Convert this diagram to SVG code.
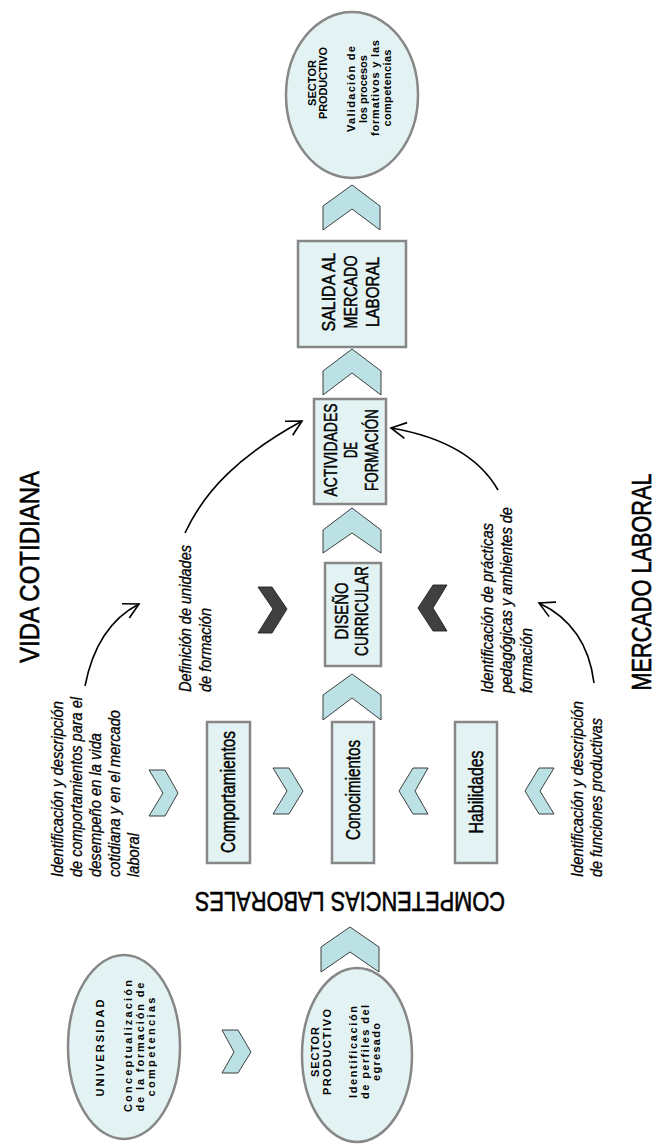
<svg xmlns="http://www.w3.org/2000/svg" width="660" height="1146" viewBox="0 0 660 1146">
<defs>
<style>
.box{fill:#E3F3F3;stroke:#878787;stroke-width:2.5}
.ell{fill:#E3F3F3;stroke:#878787;stroke-width:2.5}
.chev{fill:#BCE1E4;stroke:#2b2b2b;stroke-width:0.9}
.dchev{fill:#404040;stroke:#222;stroke-width:0.9}
.t{font-family:"Liberation Sans",Arial,sans-serif;fill:#000}
.bt{font-size:20px;stroke:#000;stroke-width:0.45}
.ct{font-size:17.5px;stroke:#000;stroke-width:0.45}
.et{font-size:11px;font-weight:bold}
.it{font-size:16.5px;font-style:italic;stroke:#000;stroke-width:0.3}
.big{font-size:27px;stroke:#000;stroke-width:0.6}
.arr{fill:none;stroke:#000;stroke-width:1.6}
</style>
<marker id="ah" markerUnits="userSpaceOnUse" markerWidth="20" markerHeight="20" viewBox="-17 -10 19 20" refX="0" refY="0" orient="auto"><path d="M-15,-8 L0,0 L-15,8" fill="none" stroke="#000" stroke-width="1.6"/></marker>
</defs>
<rect width="660" height="1146" fill="#fff"/>

<g id="universidad">
<ellipse class="ell" cx="124" cy="1047" rx="56" ry="92"/>
<text class="t et" transform="translate(103.5,1048) rotate(-90)" text-anchor="middle" textLength="97">UNIVERSIDAD</text>
<text class="t et" transform="translate(132,1046) rotate(-90)" text-anchor="middle" textLength="132">Conceptualización</text>
<text class="t et" transform="translate(143.5,1047) rotate(-90)" text-anchor="middle" textLength="129">de la formación de</text>
<text class="t et" transform="translate(155,1047) rotate(-90)" text-anchor="middle" textLength="99">competencias</text>
</g>

<g id="sector1">
<ellipse class="ell" cx="357" cy="1055" rx="55" ry="87"/>
<text class="t et" transform="translate(318.5,1052) rotate(-90)" text-anchor="middle" textLength="50">SECTOR</text>
<text class="t et" transform="translate(330.5,1052) rotate(-90)" text-anchor="middle" textLength="86">PRODUCTIVO</text>
<text class="t et" transform="translate(356.5,1052) rotate(-90)" text-anchor="middle" textLength="92">Identificación</text>
<text class="t et" transform="translate(368.5,1052) rotate(-90)" text-anchor="middle" textLength="94">de perfiles del</text>
<text class="t et" transform="translate(380,1052) rotate(-90)" text-anchor="middle" textLength="58">egresado</text>
</g>

<g id="competencias">
<text class="t big" font-size="31" transform="translate(350,892) rotate(180)" text-anchor="middle" textLength="310" lengthAdjust="spacingAndGlyphs">COMPETENCIAS LABORALES</text>
</g>

<g id="comportamientos">
<rect class="box" x="207" y="722" width="43" height="141"/>
<text class="t bt" transform="translate(234.5,792) rotate(-90)" text-anchor="middle" textLength="122" lengthAdjust="spacingAndGlyphs">Comportamientos</text>
</g>
<g id="conocimientos">
<rect class="box" x="332" y="722" width="42" height="141"/>
<text class="t bt" transform="translate(360,790) rotate(-90)" text-anchor="middle" textLength="100" lengthAdjust="spacingAndGlyphs">Conocimientos</text>
</g>
<g id="habilidades">
<rect class="box" x="455" y="722" width="42" height="141"/>
<text class="t bt" transform="translate(483,792) rotate(-90)" text-anchor="middle" textLength="83" lengthAdjust="spacingAndGlyphs">Habilidades</text>
</g>

<g id="diseno">
<rect class="box" x="325" y="563" width="56" height="103"/>
<text class="t ct" transform="translate(347.5,611) rotate(-90)" text-anchor="middle" textLength="57" lengthAdjust="spacingAndGlyphs">DISEÑO</text>
<text class="t ct" transform="translate(367.5,611) rotate(-90)" text-anchor="middle" textLength="90" lengthAdjust="spacingAndGlyphs">CURRICULAR</text>
</g>

<g id="actividades">
<rect class="box" x="314" y="399" width="72" height="105"/>
<text class="t ct" transform="translate(336.5,450) rotate(-90)" text-anchor="middle" textLength="93" lengthAdjust="spacingAndGlyphs">ACTIVIDADES</text>
<text class="t ct" transform="translate(356.5,450) rotate(-90)" text-anchor="middle" textLength="16" lengthAdjust="spacingAndGlyphs">DE</text>
<text class="t ct" transform="translate(377.5,450) rotate(-90)" text-anchor="middle" textLength="82" lengthAdjust="spacingAndGlyphs">FORMACIÓN</text>
</g>

<g id="salida">
<rect class="box" x="298" y="241" width="108" height="106"/>
<text class="t ct" transform="translate(334.5,292) rotate(-90)" text-anchor="middle" textLength="79" lengthAdjust="spacingAndGlyphs">SALIDA AL</text>
<text class="t ct" transform="translate(356.5,292) rotate(-90)" text-anchor="middle" textLength="73" lengthAdjust="spacingAndGlyphs">MERCADO</text>
<text class="t ct" transform="translate(378.5,292) rotate(-90)" text-anchor="middle" textLength="70" lengthAdjust="spacingAndGlyphs">LABORAL</text>
</g>

<g id="sector2">
<ellipse class="ell" cx="352" cy="95" rx="66" ry="83"/>
<text class="t et" transform="translate(315.5,83) rotate(-90)" text-anchor="middle" textLength="46">SECTOR</text>
<text class="t et" transform="translate(327,83) rotate(-90)" text-anchor="middle" textLength="72">PRODUCTIVO</text>
<text class="t et" transform="translate(354.5,89) rotate(-90)" text-anchor="middle" textLength="86">Validación de</text>
<text class="t et" transform="translate(366.5,89) rotate(-90)" text-anchor="middle" textLength="68">los procesos</text>
<text class="t et" transform="translate(379,88) rotate(-90)" text-anchor="middle" textLength="96">formativos y las</text>
<text class="t et" transform="translate(391,88) rotate(-90)" text-anchor="middle" textLength="77">competencias</text>
</g>

<g id="vida-cotidiana">
<text class="t big" transform="translate(39,567) rotate(-90)" text-anchor="middle" textLength="192" lengthAdjust="spacingAndGlyphs">VIDA COTIDIANA</text>
</g>
<g id="mercado-laboral">
<text class="t big" transform="translate(651,582) rotate(-90)" text-anchor="middle" textLength="217" lengthAdjust="spacingAndGlyphs">MERCADO LABORAL</text>
</g>

<g id="nota-comportamientos">
<text class="t it" transform="translate(63,877) rotate(-90)" textLength="176" lengthAdjust="spacingAndGlyphs">Identificación y descripción</text>
<text class="t it" transform="translate(82,877) rotate(-90)" textLength="180" lengthAdjust="spacingAndGlyphs">de comportamientos para el</text>
<text class="t it" transform="translate(101,877) rotate(-90)" textLength="144" lengthAdjust="spacingAndGlyphs">desempeño en la vida</text>
<text class="t it" transform="translate(120,877) rotate(-90)" textLength="167" lengthAdjust="spacingAndGlyphs">cotidiana y en el mercado</text>
<text class="t it" transform="translate(139,877) rotate(-90)" textLength="44" lengthAdjust="spacingAndGlyphs">laboral</text>
</g>
<g id="nota-unidades">
<text class="t it" transform="translate(191,692) rotate(-90)" textLength="147" lengthAdjust="spacingAndGlyphs">Definición de unidades</text>
<text class="t it" transform="translate(211,692) rotate(-90)" textLength="84" lengthAdjust="spacingAndGlyphs">de formación</text>
</g>
<g id="nota-practicas">
<text class="t it" transform="translate(493,693) rotate(-90)" textLength="170" lengthAdjust="spacingAndGlyphs">Identificación de prácticas</text>
<text class="t it" transform="translate(512,693) rotate(-90)" textLength="186" lengthAdjust="spacingAndGlyphs">pedagógicas y ambientes de</text>
<text class="t it" transform="translate(532,693) rotate(-90)" textLength="65" lengthAdjust="spacingAndGlyphs">formación</text>
</g>
<g id="nota-funciones">
<text class="t it" transform="translate(583,877) rotate(-90)" textLength="176" lengthAdjust="spacingAndGlyphs">Identificación y descripción</text>
<text class="t it" transform="translate(602,877) rotate(-90)" textLength="159" lengthAdjust="spacingAndGlyphs">de funciones productivas</text>
</g>

<g id="connectors">
<polygon class="chev" points="222,1030 238,1030 251,1052 238,1073 222,1073 234,1052"/>
<polygon class="chev" points="321,947 350,927 379,947 379,972 350,952 321,972"/>
<polygon class="chev" points="149,770 165,770 178,793 165,816 149,816 163,793"/>
<polygon class="chev" points="273,768 289,768 303,791 289,814 273,814 287,791"/>
<polygon class="chev" points="399,791 413,768 428,768 415,791 428,814 413,814"/>
<polygon class="chev" points="525,791 539,768 554,768 540,791 554,814 539,814"/>
<polygon class="chev" points="323,695 352,674 381,695 381,720 352,698 323,720"/>
<polygon class="dchev" points="258,587 272,587 287,609 272,633 258,633 273,609"/>
<polygon class="dchev" points="418,608 433,585 447,585 433,608 447,631 433,631"/>
<polygon class="chev" points="323,530 352,508 381,530 381,553 352,533 323,553"/>
<polygon class="chev" points="323,371 352,349 381,371 381,395 352,373 323,395"/>
<polygon class="chev" points="323,206 352,185 380,206 380,230 352,209 323,230"/>
<path class="arr" d="M85,686 C92,650 108,620 139,604" marker-end="url(#ah)"/>
<path class="arr" d="M185,533 C205,490 240,455 302,421" marker-end="url(#ah)"/>
<path class="arr" d="M498,490 C482,462 450,438 391,428" marker-end="url(#ah)"/>
<path class="arr" d="M594,683 C590,650 575,620 539,603" marker-end="url(#ah)"/>
</g>
</svg>
